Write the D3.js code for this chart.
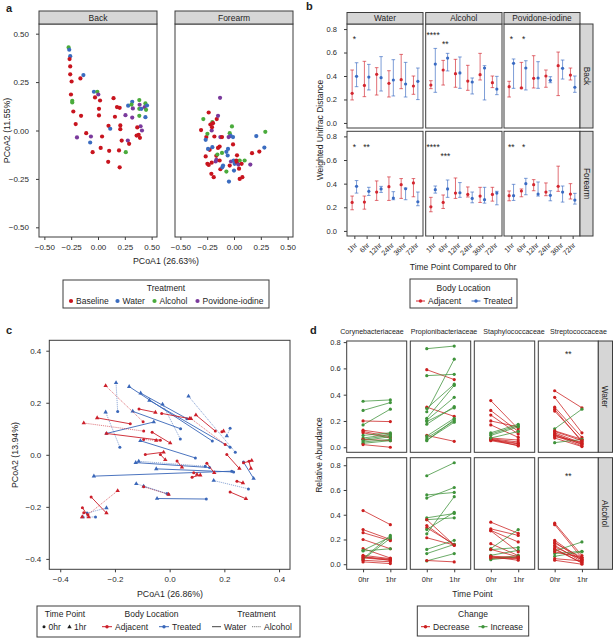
<!DOCTYPE html>
<html><head><meta charset="utf-8">
<script src="https://cdn.jsdelivr.net/npm/d3@7"></script>
<style>body{margin:0;background:#fff}</style>
</head><body><svg id="fig" width="615" height="638" xmlns="http://www.w3.org/2000/svg"></svg>
<script>
// ---------------- DATA ----------------
// Panel a: PCoA points [PCoA1, PCoA2, treatment code]
const treatmentNames = ["Baseline","Water","Alcohol","Povidone-iodine"];
const treatmentCodes = ["B","W","A","P"];
const pcoaTicks = [-0.5,-0.25,0,0.25,0.5];
const backPoints = [[-0.274,0.429,"A"],[-0.268,0.417,"W"],[-0.259,0.384,"W"],[-0.265,0.369,"B"],[-0.259,0.331,"B"],[-0.259,0.290,"B"],[-0.246,0.253,"B"],[-0.164,0.269,"B"],[-0.136,0.286,"W"],[-0.252,0.186,"B"],[-0.240,0.153,"A"],[-0.240,0.145,"A"],[-0.230,0.098,"B"],[-0.158,0.076,"B"],[-0.208,0.033,"B"],[-0.196,-0.036,"P"],[-0.038,0.200,"W"],[-0.006,0.200,"A"],[0.003,0.186,"P"],[-0.028,0.171,"B"],[0.019,0.155,"B"],[0.009,0.112,"B"],[0.009,0.078,"B"],[-0.110,-0.014,"B"],[-0.066,-0.031,"P"],[-0.073,-0.062,"W"],[0.038,-0.031,"B"],[0.145,0.167,"B"],[0.177,0.121,"B"],[0.202,0.117,"B"],[0.158,0.071,"B"],[0.098,0.024,"B"],[0.114,0.009,"W"],[0.208,0.026,"B"],[0.208,0.007,"B"],[0.025,-0.090,"B"],[-0.050,-0.112,"B"],[0.104,-0.105,"B"],[0.196,-0.103,"B"],[0.221,-0.052,"B"],[0.256,0.079,"P"],[0.278,-0.052,"P"],[0.290,-0.069,"B"],[0.259,-0.112,"A"],[0.281,0.128,"W"],[0.319,0.148,"W"],[0.325,0.114,"P"],[0.312,0.134,"A"],[0.385,0.157,"A"],[0.388,0.133,"P"],[0.385,0.112,"A"],[0.385,0.076,"A"],[0.404,0.112,"W"],[0.435,0.121,"P"],[0.442,0.140,"A"],[0.457,0.129,"W"],[0.448,0.107,"A"],[0.442,0.069,"W"],[0.397,0.022,"P"],[0.410,0.000,"P"],[0.366,0.016,"B"],[0.360,-0.026,"B"],[0.379,-0.022,"B"],[0.391,-0.038,"B"],[0.319,0.067,"P"],[0.095,-0.162,"B"],[0.202,-0.190,"B"]];
const forearmPoints = [[-0.130,0.169,"P"],[-0.236,0.093,"B"],[-0.286,0.059,"A"],[-0.202,0.043,"A"],[-0.196,0.038,"B"],[-0.220,0.031,"B"],[-0.161,0.059,"B"],[-0.149,0.076,"P"],[-0.307,0.002,"B"],[-0.258,-0.034,"B"],[-0.208,0.000,"P"],[-0.205,0.017,"B"],[-0.264,-0.048,"W"],[-0.248,-0.017,"A"],[-0.183,-0.031,"B"],[-0.127,-0.034,"P"],[-0.112,-0.034,"B"],[-0.019,0.021,"A"],[-0.040,-0.014,"A"],[-0.031,-0.028,"W"],[-0.050,-0.034,"P"],[-0.009,-0.034,"W"],[-0.009,-0.072,"B"],[-0.056,-0.095,"W"],[0.208,-0.029,"W"],[0.292,-0.007,"A"],[0.283,-0.088,"W"],[-0.227,-0.100,"B"],[-0.242,-0.095,"W"],[-0.202,-0.086,"W"],[-0.134,-0.083,"B"],[-0.149,-0.090,"B"],[-0.264,-0.134,"B"],[-0.165,-0.131,"B"],[-0.155,-0.124,"A"],[-0.071,-0.110,"W"],[-0.059,-0.129,"W"],[-0.112,-0.116,"A"],[0.028,-0.128,"B"],[0.168,-0.117,"B"],[0.236,-0.109,"B"],[-0.248,-0.172,"B"],[-0.236,-0.178,"B"],[-0.171,-0.160,"P"],[-0.165,-0.152,"P"],[-0.134,-0.155,"B"],[-0.127,-0.200,"B"],[-0.071,-0.212,"A"],[-0.040,-0.181,"B"],[-0.028,-0.160,"P"],[-0.003,-0.155,"W"],[0.006,-0.172,"W"],[0.028,-0.164,"B"],[0.040,-0.176,"P"],[0.053,-0.155,"A"],[0.071,-0.172,"B"],[0.047,-0.197,"B"],[0.000,-0.207,"W"],[0.099,-0.155,"A"],[0.152,-0.176,"P"],[-0.102,-0.181,"W"],[-0.109,-0.190,"W"],[-0.211,-0.224,"B"],[-0.189,-0.241,"B"],[-0.047,-0.264,"W"],[0.053,-0.250,"B"],[0.078,-0.241,"B"],[-0.208,-0.166,"B"],[0.022,-0.155,"B"]];

// Panel b: [mean, lower, upper] per time point
const timePoints = ["1hr","6hr","12hr","24hr","36hr","72hr"];
const bTreatments = ["Water","Alcohol","Povidone-iodine"];
const bLocations = ["Back","Forearm"];
const bTicks = [0,0.2,0.4,0.6,0.8];
const backWaterAdj = [[0.252,0.196,0.451],[0.32,0.224,0.525],[0.414,0.238,0.471],[0.338,0.221,0.445],[0.369,0.292,0.584],[0.315,0.244,0.40]];
const backWaterTrt = [[0.397,0.309,0.513],[0.391,0.281,0.499],[0.386,0.272,0.565],[0.366,0.23,0.539],[0.332,0.221,0.516],[0.355,0.199,0.468]];
const backAlcAdj = [[0.323,0.292,0.36],[0.451,0.323,0.533],[0.42,0.304,0.542],[0.357,0.278,0.491],[0.411,0.366,0.593],[0.343,0.301,0.40]];
const backAlcTrt = [[0.502,0.261,0.635],[0.553,0.443,0.593],[0.426,0.295,0.562],[0.349,0.247,0.383],[0.468,0.196,0.488],[0.289,0.241,0.397]];
const backPovAdj = [[0.309,0.221,0.355],[0.298,0.298,0.516],[0.38,0.298,0.573],[0.40,0.304,0.451],[0.488,0.233,0.604],[0.408,0.366,0.468]];
const backPovTrt = [[0.508,0.295,0.545],[0.468,0.281,0.530],[0.383,0.295,0.522],[0.363,0.343,0.394],[0.465,0.374,0.536],[0.304,0.261,0.40]];
const foreWaterAdj = [[0.241,0.179,0.295],[0.244,0.184,0.295],[0.329,0.258,0.423],[0.374,0.258,0.457],[0.391,0.275,0.443],[0.406,0.289,0.443]];
const foreWaterTrt = [[0.377,0.32,0.426],[0.335,0.30,0.369],[0.355,0.326,0.377],[0.278,0.264,0.332],[0.357,0.264,0.363],[0.247,0.213,0.329]];
const foreAlcAdj = [[0.204,0.162,0.284],[0.241,0.19,0.304],[0.32,0.275,0.448],[0.309,0.287,0.372],[0.295,0.241,0.369],[0.309,0.252,0.369]];
const foreAlcTrt = [[0.349,0.32,0.38],[0.355,0.284,0.431],[0.323,0.284,0.409],[0.275,0.238,0.329],[0.264,0.235,0.369],[0.32,0.221,0.335]];
const forePovAdj = [[0.298,0.255,0.338],[0.338,0.289,0.355],[0.391,0.34,0.434],[0.329,0.298,0.406],[0.377,0.335,0.548],[0.312,0.27,0.40]];
const forePovTrt = [[0.298,0.258,0.394],[0.40,0.306,0.445],[0.312,0.295,0.414],[0.301,0.255,0.34],[0.329,0.244,0.38],[0.261,0.227,0.318]];
// significance labels: [location, treatment, time point, y value, label]
const bStars = [["Back","Water","1hr",0.72,"*"],["Back","Alcohol","1hr",0.76,"****"],["Back","Alcohol","6hr",0.68,"**"],["Back","Povidone-iodine","1hr",0.72,"*"],["Back","Povidone-iodine","6hr",0.72,"*"],
  ["Forearm","Water","1hr",0.72,"*"],["Forearm","Water","6hr",0.72,"**"],["Forearm","Alcohol","1hr",0.72,"****"],["Forearm","Alcohol","6hr",0.64,"***"],["Forearm","Povidone-iodine","1hr",0.72,"**"],["Forearm","Povidone-iodine","6hr",0.72,"*"]];

// Panel c: segments [x 0hr, y 0hr, x 1hr, y 1hr, treatment]
const cTicks = [-0.4,-0.2,0,0.2,0.4];
const treatedSegs = [[-0.190,0.166,-0.196,0.277,"Alcohol"],[-0.182,0.029,-0.234,0.164,"Alcohol"],[0.156,0.053,-0.148,0.262,"Water"],[0.039,0.061,-0.026,0.194,"Alcohol"],[0.221,0.029,-0.074,0.209,"Water"],[0.063,0.139,-0.106,0.237,"Water"],[0.040,0.100,-0.135,0.167,"Water"],[-0.231,0.082,-0.058,0.126,"Water"],[0.240,0.010,0.069,0.225,"Alcohol"],[0.221,0.102,0.209,0.072,"Alcohol"],[0.094,-0.012,-0.107,0.054,"Water"],[0.146,-0.049,-0.124,-0.030,"Water"],[0.130,-0.044,-0.113,-0.025,"Alcohol"],[0.234,-0.066,-0.049,-0.054,"Water"],[0.227,-0.063,-0.277,-0.082,"Water"],[0.270,-0.028,0.307,-0.091,"Water"],[-0.004,-0.152,-0.122,-0.111,"Alcohol"],[-0.010,-0.149,-0.095,-0.121,"Alcohol"],[0.134,-0.170,-0.046,-0.168,"Water"],[-0.271,-0.239,-0.318,-0.239,"Alcohol"],[-0.302,-0.224,-0.231,-0.204,"Alcohol"],[0.288,-0.131,0.161,-0.099,"Alcohol"]];
const adjacentSegs = [[-0.097,0.127,-0.234,0.265,"Alcohol"],[-0.144,0.119,-0.265,0.142,"Water"],[-0.034,0.056,-0.231,0.082,"Water"],[-0.112,0.176,-0.052,0.163,"Water"],[-0.029,0.159,0.073,0.139,"Water"],[-0.064,0.087,0.002,0.045,"Water"],[-0.089,0.001,-0.022,0.010,"Water"],[-0.095,0.059,-0.049,0.055,"Alcohol"],[-0.034,0.001,-0.016,-0.019,"Water"],[0.027,-0.024,0.045,-0.048,"Water"],[0.167,0.091,0.096,0.153,"Water"],[0.203,0.040,0.078,0.139,"Alcohol"],[0.191,0.089,0.197,0.091,"Water"],[0.209,0.001,0.255,-0.053,"Water"],[0.270,-0.031,0.300,-0.022,"Water"],[0.290,-0.025,0.297,-0.053,"Water"],[0.082,-0.086,0.112,-0.078,"Water"],[0.136,-0.032,0.163,-0.069,"Water"],[0.088,-0.069,0.100,-0.076,"Alcohol"],[-0.095,0.091,-0.314,0.122,"Alcohol"],[-0.287,-0.162,-0.231,-0.224,"Water"],[-0.299,-0.230,-0.190,-0.138,"Alcohol"],[-0.095,-0.123,-0.004,-0.152,"Alcohol"],[0.221,-0.143,0.279,-0.169,"Water"],[0.246,-0.102,0.268,-0.108,"Water"],[-0.319,-0.203,-0.296,-0.239,"Water"],[-0.314,-0.223,-0.320,-0.239,"Alcohol"]];

// Panel d: relative abundance pairs [0hr, 1hr]
const families = ["Corynebacteriaceae","Propionibacteriaceae","Staphylococcaceae","Streptococcaceae"];
const dTreatments = ["Water","Alcohol"];
const dTimes = ["0hr","1hr"];
const dTicks = [0,0.2,0.4,0.6,0.8];
const coryneWater = [[0.35,0.36],[0.28,0.34],[0.17,0.29],[0.20,0.195],[0.13,0.10],[0.12,0.08],[0.11,0.07],[0.09,0.11],[0.07,0.10],[0.06,0.09],[0.06,0.05],[0.05,0.08],[0.04,0.06],[0.03,0.05],[0.02,0.00]];
const propioniWater = [[0.75,0.77],[0.59,0.515],[0.545,0.555],[0.305,0.235],[0.295,0.48],[0.27,0.67],[0.22,0.47],[0.205,0.38],[0.175,0.31],[0.195,0.30],[0.09,0.045],[0.085,0.22],[0.07,0.20],[0.055,0.19],[0.05,0.21]];
const staphWater = [[0.355,0.14],[0.28,0.12],[0.245,0.10],[0.2,0.155],[0.17,0.075],[0.11,0.175],[0.10,0.165],[0.09,0.155],[0.07,0.055],[0.065,0.04],[0.06,0.03],[0.055,0.025],[0.05,0.015],[0.06,0.01],[0.07,0.12]];
const strepWater = [[0.43,0.30],[0.38,0.11],[0.305,0.075],[0.29,0.04],[0.275,0.05],[0.14,0.29],[0.125,0.06],[0.11,0.03],[0.10,0.02],[0.09,0.01],[0.08,0.04],[0.07,0.005],[0.035,0.06],[0.12,0.05],[0.095,0.025]];
const coryneAlcohol = [[0.434,0.32],[0.28,0.20],[0.255,0.19],[0.20,0.125],[0.126,0.05],[0.112,0.22],[0.107,0.125],[0.072,0.045],[0.059,0.03],[0.045,0.233],[0.04,0.21],[0.032,0.02],[0.019,0.005],[0.06,0.04],[0.05,0.035]];
const propioniAlcohol = [[0.715,0.82],[0.56,0.58],[0.535,0.62],[0.375,0.41],[0.36,0.375],[0.313,0.153],[0.295,0.16],[0.28,0.42],[0.246,0.546],[0.214,0.155],[0.12,0.193],[0.086,0.16],[0.027,0.086],[0.03,0.019],[0.36,0.155]];
const staphAlcohol = [[0.34,0.25],[0.286,0.233],[0.273,0.18],[0.166,0.07],[0.126,0.28],[0.118,0.135],[0.072,0.112],[0.059,0.05],[0.045,0.07],[0.037,0.06],[0.27,0.1],[0.065,0.055],[0.05,0.045],[0.06,0.032],[0.12,0.06]];
const strepAlcohol = [[0.332,0.07],[0.32,0.05],[0.193,0.04],[0.18,0.03],[0.153,0.02],[0.126,0.01],[0.107,0.18],[0.086,0.105],[0.064,0.10],[0.045,0.027],[0.032,0.0],[0.10,0.054],[0.14,0.037],[0.12,0.011],[0.17,0.054]];
const dStars = [["Water","Streptococcaceae",0.72,"**"],["Alcohol","Streptococcaceae",0.72,"**"]];

// ---------------- DRAWING ----------------
const svg = d3.select("#fig");
const F = "'Liberation Sans', Arial, Helvetica, sans-serif";
const INK = "#1e1e1e", BORDER = "#3c3c3c", STRIPFILL = "#d6d6d6";

function txt(g, x, y, s, o = {}) {
  const t = g.append("text").attr("x", x).attr("y", y).text(s)
    .attr("font-family", F).attr("font-size", o.size || 8.5).attr("fill", o.fill || INK)
    .attr("text-anchor", o.anchor || "middle");
  if (o.weight) t.attr("font-weight", o.weight);
  if (o.rotate) t.attr("transform", `rotate(${o.rotate},${x},${y})`);
  return t;
}
function box(g, x0, y0, x1, y1, fill) {
  return g.append("rect").attr("x", x0).attr("y", y0).attr("width", x1 - x0).attr("height", y1 - y0)
    .attr("fill", fill || "none").attr("stroke", BORDER).attr("stroke-width", 1);
}
function styleAxis(g, size) {
  g.select(".domain").remove();
  g.selectAll(".tick line").attr("stroke", BORDER);
  g.selectAll(".tick text").attr("font-family", F).attr("font-size", size).attr("fill", "#2a2a2a");
}

// ===== Panel a =====
txt(svg, 6, 12, "a", {size: 11, weight: "bold", anchor: "start"});
const colA = d3.scaleOrdinal().domain(treatmentCodes).range(["#c8141e", "#3a6cc0", "#4aab3c", "#7a3a9c"]);
const aY = d3.scaleLinear().domain([-0.55, 0.55]).range([237, 24]);
[{name: "Back", x0: 39, x1: 157, pts: backPoints}, {name: "Forearm", x0: 175, x1: 293, pts: forearmPoints}].forEach((p, i) => {
  const x = d3.scaleLinear().domain([-0.55, 0.55]).range([p.x0, p.x1]);
  box(svg, p.x0, 24, p.x1, 237, "#fff");
  box(svg, p.x0, 11, p.x1, 24, STRIPFILL);
  txt(svg, (p.x0 + p.x1) / 2, 20.8, p.name, {size: 8.5});
  svg.append("g").selectAll("circle").data(p.pts).join("circle")
    .attr("cx", d => x(d[0])).attr("cy", d => aY(d[1])).attr("r", 2.1).attr("fill", d => colA(d[2]));
  const gx = svg.append("g").attr("transform", "translate(0,237)")
    .call(d3.axisBottom(x).tickValues(pcoaTicks).tickFormat(d3.format(".2f")).tickSize(3).tickPadding(4));
  styleAxis(gx, 8);
  if (i === 0) {
    const gy = svg.append("g").attr("transform", `translate(${p.x0},0)`)
      .call(d3.axisLeft(aY).tickValues(pcoaTicks).tickFormat(d3.format(".2f")).tickSize(3).tickPadding(7));
    styleAxis(gy, 8);
  }
});
txt(svg, 166, 264, "PCoA1 (26.63%)", {size: 8.8});
txt(svg, 10, 130.5, "PCoA2 (11.55%)", {size: 8.8, rotate: -90});
// legend a
box(svg, 63, 280, 269, 308, "#fff");
txt(svg, 166, 291, "Treatment", {size: 8.5});
const aLegX = [71, 117.5, 154.5, 197.5];
treatmentCodes.forEach((c, i) => {
  svg.append("circle").attr("cx", aLegX[i]).attr("cy", 301).attr("r", 2.1).attr("fill", colA(c));
  txt(svg, aLegX[i] + 5, 304, treatmentNames[i], {size: 8.5, anchor: "start"});
});

// ===== Panel b =====
txt(svg, 306, 10, "b", {size: 11, weight: "bold", anchor: "start"});
const colB = {adj: "#d3262f", trt: "#3a6bc3"};
const bCols = [{x0: 347, x1: 423}, {x0: 425.7, x1: 502}, {x0: 504, x1: 580}];
const bRows = [{y0: 24, y1: 128}, {y0: 131.3, y1: 236}];
const bData = {
  Back: {Water: [backWaterAdj, backWaterTrt], Alcohol: [backAlcAdj, backAlcTrt], "Povidone-iodine": [backPovAdj, backPovTrt]},
  Forearm: {Water: [foreWaterAdj, foreWaterTrt], Alcohol: [foreAlcAdj, foreAlcTrt], "Povidone-iodine": [forePovAdj, forePovTrt]}
};
bLocations.forEach((loc, r) => {
  const R = bRows[r];
  const y = d3.scaleLinear().domain([-0.043, 0.843]).range([R.y1, R.y0]);
  bTreatments.forEach((trt, c) => {
    const C = bCols[c];
    const x = d3.scalePoint().domain(timePoints).range([C.x0, C.x1]).padding(0.6);
    const dodge = x.step() * 0.18;
    box(svg, C.x0, R.y0, C.x1, R.y1, "#fff");
    if (r === 0) {
      box(svg, C.x0, 12.5, C.x1, 24, STRIPFILL);
      txt(svg, (C.x0 + C.x1) / 2, 21.3, trt, {size: 8.3});
    }
    const [adj, tr] = bData[loc][trt];
    [[adj, -dodge, colB.adj], [tr, dodge, colB.trt]].forEach(([arr, off, col]) => {
      const g = svg.append("g");
      arr.forEach((d, k) => {
        const cx = x(timePoints[k]) + off;
        g.append("line").attr("x1", cx).attr("x2", cx).attr("y1", y(d[1])).attr("y2", y(d[2]))
          .attr("stroke", col).attr("stroke-width", 1).attr("opacity", 0.65);
        [d[1], d[2]].forEach(v => g.append("line").attr("x1", cx - 1.8).attr("x2", cx + 1.8).attr("y1", y(v)).attr("y2", y(v))
          .attr("stroke", col).attr("stroke-width", 1).attr("opacity", 0.65));
        g.append("circle").attr("cx", cx).attr("cy", y(d[0])).attr("r", 1.6).attr("fill", col);
      });
    });
    bStars.filter(s => s[0] === loc && s[1] === trt).forEach(s => {
      txt(svg, x(s[2]), y(s[3]) + 4, s[4], {size: 8.5});
    });
    if (r === 1) {
      const gx = svg.append("g").attr("transform", `translate(0,${R.y1})`)
        .call(d3.axisBottom(x).tickSize(3).tickPadding(2));
      styleAxis(gx, 7.2);
      gx.selectAll(".tick text").attr("text-anchor", "end").attr("x", 0).attr("y", 0).attr("dy", "0.35em")
        .attr("transform", "translate(1,8) rotate(-45)");
    }
    if (c === 0) {
      const gy = svg.append("g").attr("transform", `translate(${C.x0},0)`)
        .call(d3.axisLeft(y).tickValues(bTicks).tickFormat(d3.format(".1f")).tickSize(3).tickPadding(7));
      styleAxis(gy, 7.5);
    }
  });
  box(svg, 580, R.y0, 593, R.y1, STRIPFILL);
  txt(svg, 583.5, (R.y0 + R.y1) / 2, loc, {size: 8.3, rotate: 90});
});
txt(svg, 323, 130, "Weighted Unifrac Distance", {size: 8.5, rotate: -90});
txt(svg, 463, 270, "Time Point Compared to 0hr", {size: 8.5});
box(svg, 410, 279, 517, 308, "#fff");
txt(svg, 463.5, 291, "Body Location", {size: 8.5});
[[416, "Adjacent", colB.adj], [471.5, "Treated", colB.trt]].forEach(([lx, lab, col]) => {
  svg.append("line").attr("x1", lx).attr("x2", lx + 9).attr("y1", 301).attr("y2", 301).attr("stroke", col).attr("stroke-width", 1);
  svg.append("circle").attr("cx", lx + 4.5).attr("cy", 301).attr("r", 1.7).attr("fill", col);
  txt(svg, lx + 12, 304, lab, {size: 8.5, anchor: "start"});
});

// ===== Panel c =====
txt(svg, 6, 334, "c", {size: 11, weight: "bold", anchor: "start"});
const colC = {Adjacent: "#cc1f2a", Treated: "#3a67b9"};
const cX = d3.scaleLinear().domain([-0.44, 0.44]).range([49.3, 290]);
const cY = d3.scaleLinear().domain([-0.44, 0.44]).range([569.3, 340.3]);
box(svg, 49.3, 340.3, 290, 569.3, "#fff");
const tri = d3.symbol().type(d3.symbolTriangle).size(8.5);
[["Treated", treatedSegs], ["Adjacent", adjacentSegs]].forEach(([loc, segs]) => {
  const g = svg.append("g");
  g.selectAll("line").data(segs).join("line")
    .attr("x1", d => cX(d[0])).attr("y1", d => cY(d[1])).attr("x2", d => cX(d[2])).attr("y2", d => cY(d[3]))
    .attr("stroke", colC[loc]).attr("stroke-width", 1)
    .attr("stroke-dasharray", d => d[4] === "Water" ? null : "1.2,0.9")
    .attr("opacity", d => d[4] === "Water" ? 0.9 : 0.55);
  g.selectAll("circle").data(segs).join("circle")
    .attr("cx", d => cX(d[0])).attr("cy", d => cY(d[1])).attr("r", 1.5).attr("fill", colC[loc]);
  g.selectAll("path").data(segs).join("path")
    .attr("d", tri).attr("transform", d => `translate(${cX(d[2])},${cY(d[3])})`).attr("fill", colC[loc]);
});
const cgx = svg.append("g").attr("transform", "translate(0,569.3)")
  .call(d3.axisBottom(cX).tickValues(cTicks).tickFormat(d3.format(".1f")).tickSize(3).tickPadding(4));
styleAxis(cgx, 8);
const cgy = svg.append("g").attr("transform", "translate(49.3,0)")
  .call(d3.axisLeft(cY).tickValues(cTicks).tickFormat(d3.format(".1f")).tickSize(3).tickPadding(5));
styleAxis(cgy, 8);
txt(svg, 170, 597, "PCoA1 (26.86%)", {size: 8.8});
txt(svg, 18, 455, "PCoA2 (13.94%)", {size: 8.8, rotate: -90});
box(svg, 37, 606, 300, 637, "#fff");
txt(svg, 65, 617, "Time Point", {size: 8.5});
txt(svg, 151.5, 617, "Body Location", {size: 8.5});
txt(svg, 256.5, 617, "Treatment", {size: 8.5});
svg.append("circle").attr("cx", 44).attr("cy", 626.7).attr("r", 1.5).attr("fill", INK);
txt(svg, 48.5, 630, "0hr", {size: 8.5, anchor: "start"});
svg.append("path").attr("d", tri).attr("transform", "translate(69.5,627)").attr("fill", INK);
txt(svg, 74, 630, "1hr", {size: 8.5, anchor: "start"});
[[102, "Adjacent", colC.Adjacent], [159, "Treated", colC.Treated]].forEach(([lx, lab, col]) => {
  svg.append("line").attr("x1", lx).attr("x2", lx + 10).attr("y1", 626.7).attr("y2", 626.7).attr("stroke", col);
  svg.append("circle").attr("cx", lx + 5).attr("cy", 626.7).attr("r", 1.7).attr("fill", col);
  txt(svg, lx + 13, 630, lab, {size: 8.5, anchor: "start"});
});
svg.append("line").attr("x1", 212).attr("x2", 221).attr("y1", 626.7).attr("y2", 626.7).attr("stroke", "#444");
txt(svg, 224, 630, "Water", {size: 8.5, anchor: "start"});
svg.append("line").attr("x1", 252).attr("x2", 261).attr("y1", 626.7).attr("y2", 626.7).attr("stroke", "#777").attr("stroke-dasharray", "1.2,0.9");
txt(svg, 264, 630, "Alcohol", {size: 8.5, anchor: "start"});

// ===== Panel d =====
txt(svg, 310, 334, "d", {size: 11, weight: "bold", anchor: "start"});
const colD = {Decrease: "#cc1f1f", Increase: "#3f933b"};
const dCols = [{x0: 346.7, x1: 406.7, lab: 372}, {x0: 410.3, x1: 470.7, lab: 444}, {x0: 474.3, x1: 534.7, lab: 514}, {x0: 538.3, x1: 598.3, lab: 578.5}];
const dRows = [{y0: 341, y1: 452.3}, {y0: 457.7, y1: 569.3}];
const dData = {
  Water: [coryneWater, propioniWater, staphWater, strepWater],
  Alcohol: [coryneAlcohol, propioniAlcohol, staphAlcohol, strepAlcohol]
};
dTreatments.forEach((trt, r) => {
  const R = dRows[r];
  const all = dData[trt].flat(2);
  const mx = d3.max(all), mn = d3.min(all), pad = (mx - mn) * 0.05;
  const y = d3.scaleLinear().domain([mn - pad, mx + pad]).range([R.y1, R.y0]);
  families.forEach((fam, c) => {
    const C = dCols[c];
    const x = d3.scalePoint().domain(dTimes).range([C.x0, C.x1]).padding(0.6);
    box(svg, C.x0, R.y0, C.x1, R.y1, "#fff");
    if (r === 0) txt(svg, C.lab, 333.5, fam, {size: 7.1});
    const pairs = dData[trt][c];
    const chg = d => d[1] >= d[0] ? "Increase" : "Decrease";
    const g = svg.append("g");
    g.selectAll("line").data(pairs).join("line")
      .attr("x1", x("0hr")).attr("x2", x("1hr")).attr("y1", d => y(d[0])).attr("y2", d => y(d[1]))
      .attr("stroke", d => colD[chg(d)]).attr("stroke-width", 0.9).attr("opacity", 0.85);
    pairs.forEach(d => {
      [0, 1].forEach(k => g.append("circle").attr("cx", x(dTimes[k])).attr("cy", y(d[k])).attr("r", 1.6).attr("fill", colD[chg(d)]));
    });
    dStars.filter(s => s[0] === trt && s[1] === fam).forEach(s => {
      txt(svg, (x("0hr") + x("1hr")) / 2, y(s[2]) + 4, s[3], {size: 8.5});
    });
    if (r === 1) {
      const gx = svg.append("g").attr("transform", `translate(0,${R.y1})`)
        .call(d3.axisBottom(x).tickSize(3).tickPadding(4));
      styleAxis(gx, 7.5);
    }
    if (c === 0) {
      const gy = svg.append("g").attr("transform", `translate(${C.x0},0)`)
        .call(d3.axisLeft(y).tickValues(dTicks).tickFormat(d3.format(".1f")).tickSize(3).tickPadding(3));
      styleAxis(gy, 7.5);
    }
  });
  box(svg, 598.3, R.y0, 612.5, R.y1, STRIPFILL);
  txt(svg, 602.3, (R.y0 + R.y1) / 2, trt, {size: 8.3, rotate: 90});
});
txt(svg, 322, 455, "Relative Abundance", {size: 8.5, rotate: -90});
txt(svg, 472.5, 597, "Time Point", {size: 8.5});
box(svg, 417.3, 606, 528.7, 636, "#fff");
txt(svg, 473, 617, "Change", {size: 8.5});
[[421, "Decrease", colD.Decrease], [478.5, "Increase", colD.Increase]].forEach(([lx, lab, col]) => {
  svg.append("line").attr("x1", lx).attr("x2", lx + 9).attr("y1", 626.7).attr("y2", 626.7).attr("stroke", col);
  svg.append("circle").attr("cx", lx + 4.5).attr("cy", 626.7).attr("r", 1.7).attr("fill", col);
  txt(svg, lx + 12, 630, lab, {size: 8.5, anchor: "start"});
});
</script></body></html>
